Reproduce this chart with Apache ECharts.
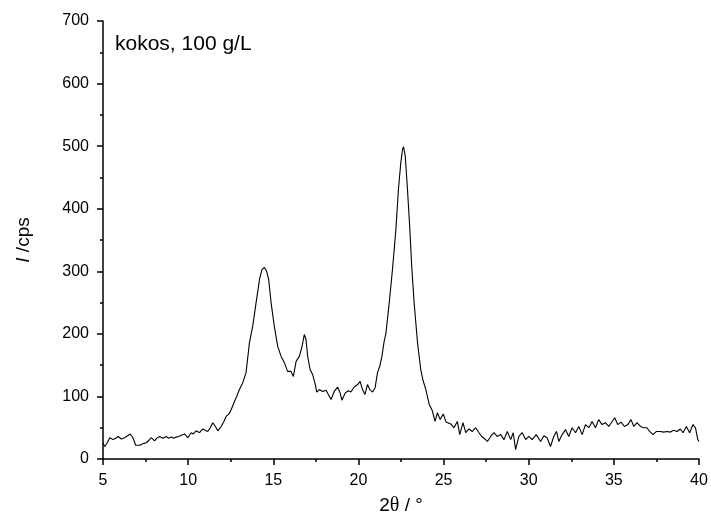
<!DOCTYPE html>
<html>
<head>
<meta charset="utf-8">
<script src="https://cdn.jsdelivr.net/npm/echarts@6/dist/echarts.min.js"></script>
<style>
html,body{margin:0;padding:0;background:#fff;}
#chart{width:711px;height:525px;}
</style>
</head>
<body>
<div id="chart"></div>
<script>
// 2θ positions (degrees)
const twoTheta = [
5.0,5.1,5.25,5.4,5.59,5.75,5.88,6.08,6.27,6.37,6.6,6.76,6.92,7.0,7.12,7.25,7.4,7.54,7.7,7.84,
8.03,8.15,8.32,8.52,8.72,8.85,9.01,9.15,9.3,9.45,9.6,9.79,9.98,10.18,10.3,10.47,10.67,10.86,11.0,11.15,
11.3,11.45,11.6,11.74,11.94,12.1,12.23,12.4,12.53,12.72,12.85,13.01,13.21,13.4,13.6,13.79,13.99,14.1,14.19,14.34,
14.41,14.48,14.61,14.73,14.87,15.06,15.26,15.46,15.65,15.84,16.04,16.18,16.34,16.53,16.69,16.82,16.92,17.02,17.16,17.31,
17.47,17.55,17.7,17.9,17.99,18.1,18.19,18.39,18.58,18.78,18.92,19.03,19.23,19.42,19.56,19.75,19.95,20.1,20.24,20.38,
20.53,20.67,20.83,20.98,21.12,21.26,21.38,21.51,21.61,21.81,22.0,22.2,22.35,22.49,22.59,22.65,22.75,22.88,23.02,23.14,
23.27,23.47,23.66,23.8,23.96,24.15,24.34,24.5,24.64,24.8,24.98,25.15,25.22,25.42,25.61,25.81,25.95,26.14,26.3,26.49,
26.69,26.89,27.08,27.24,27.43,27.57,27.77,27.96,28.15,28.35,28.55,28.74,28.94,29.09,29.23,29.42,29.62,29.82,30.01,30.2,
30.44,30.7,30.89,31.08,31.28,31.47,31.63,31.77,31.96,32.16,32.35,32.55,32.75,32.94,33.14,33.33,33.53,33.72,33.92,34.11,
34.31,34.5,34.7,34.9,35.05,35.23,35.42,35.62,35.82,36.01,36.17,36.36,36.56,36.75,36.95,37.1,37.3,37.5,37.73,37.93,
38.12,38.32,38.51,38.71,38.9,39.06,39.26,39.45,39.65,39.79,39.93,40.0
];
// intensity (cps)
const intensity = [
25,20,26,34,31,33,36,32,34,31,40,34,22,19,22,23,25,26,30,34,
29,33,36,33,36,33,35,33,35,36,38,40,34,42,40,45,42,48,46,44,
50,58,52,45,52,60,68,72,79,92,100,111,122,138,186,212,250,270,287,303,
301,306,300,287,250,212,180,164,154,140,140,132,156,164,180,199,191,164,143,135,
119,107,111,108,107,110,108,95,108,115,106,94,106,109,107,115,119,124,111,103,
119,111,107,114,138,149,164,188,200,250,303,367,431,474,495,499,484,431,367,303,
250,186,143,125,111,88,77,60,74,63,72,59,62,56,50,60,39,58,42,48,
44,50,42,36,32,28,36,42,36,39,31,44,31,42,15,36,42,31,36,31,
39,28,37,34,20,36,44,28,39,47,36,50,42,52,39,55,50,60,50,63,
55,58,52,60,66,55,59,52,55,63,52,58,52,50,50,44,39,44,44,43,
44,43,46,44,48,42,52,42,55,50,31,28
];
const xTicks = [5, 40, 5];   // min, max, interval
const yTicks = [0, 700, 100];
const sampleLabel = 'kokos, 100 g/L';
const xNameParts = ['2', 'θ', ' / °'];
const yNameParts = ['I', ' /cps'];

const points = twoTheta.map((x, i) => [x, intensity[i]]);
const FONT = "'Liberation Sans', Arial, sans-serif";
const SERIF = "'Liberation Serif', 'DejaVu Serif', serif";

const chart = echarts.init(document.getElementById('chart'), null, {renderer: 'canvas'});
chart.setOption({
  animation: false,
  backgroundColor: '#fff',
  grid: {left: 103, right: 12, top: 21, bottom: 66, containLabel: false},
  xAxis: {
    type: 'value', min: xTicks[0], max: xTicks[1], interval: xTicks[2],
    name: xNameParts[0] + '{t|' + xNameParts[1] + '}' + xNameParts[2],
    nameLocation: 'middle', nameGap: 37,
    nameTextStyle: {fontFamily: FONT, fontSize: 19, color: '#000',
      rich: {t: {fontFamily: SERIF, fontSize: 20, color: '#000'}}},
    axisLine: {onZero: false, lineStyle: {color: '#000', width: 1.5}},
    axisTick: {show: true, inside: false, length: 6, lineStyle: {color: '#000', width: 1.5}},
    minorTick: {show: true, splitNumber: 2, length: 3, lineStyle: {color: '#000', width: 1.5}},
    axisLabel: {fontFamily: FONT, fontSize: 16, color: '#000', margin: 14},
    splitLine: {show: false}
  },
  yAxis: {
    type: 'value', min: yTicks[0], max: yTicks[1], interval: yTicks[2],
    name: '{i|' + yNameParts[0] + '}' + yNameParts[1], nameLocation: 'middle', nameGap: 70, nameRotate: 90,
    nameTextStyle: {fontFamily: FONT, fontSize: 19, color: '#000',
      rich: {i: {fontStyle: 'italic', fontFamily: FONT, fontSize: 19, color: '#000'}}},
    axisLine: {show: true, lineStyle: {color: '#000', width: 1.5}},
    axisTick: {show: true, inside: false, length: 6, lineStyle: {color: '#000', width: 1.5}},
    minorTick: {show: true, splitNumber: 2, length: 3, lineStyle: {color: '#000', width: 1.5}},
    axisLabel: {fontFamily: FONT, fontSize: 16, color: '#000', margin: 14},
    splitLine: {show: false}
  },
  graphic: [{
    type: 'text', left: 115, top: 34,
    style: {text: sampleLabel, font: '21px ' + FONT, fill: '#000'}
  }],
  series: [{
    type: 'line', data: points, showSymbol: false, symbol: 'none',
    lineStyle: {color: '#000', width: 1.1}, silent: true
  }]
});
</script>
</body>
</html>
